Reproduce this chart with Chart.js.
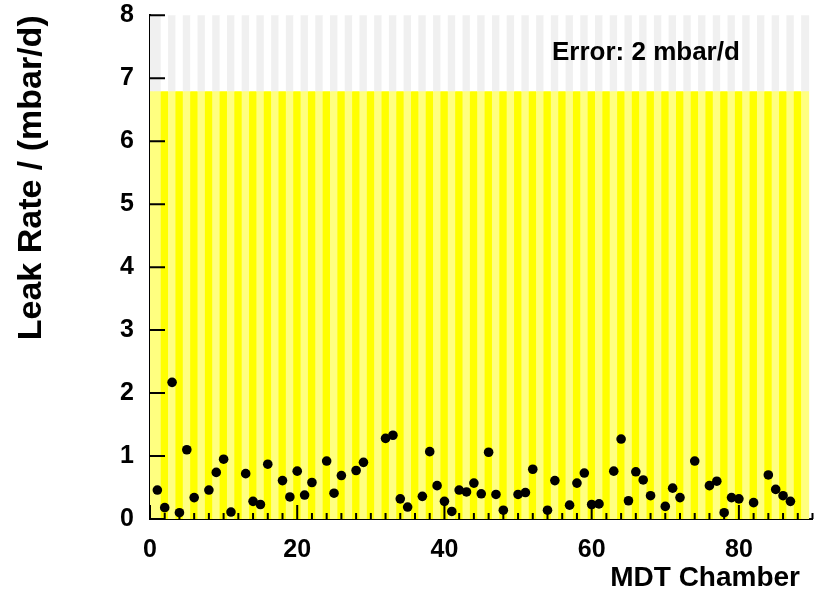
<!DOCTYPE html>
<html>
<head>
<meta charset="utf-8">
<script src="https://cdn.jsdelivr.net/npm/chart.js@4.4.1/dist/chart.umd.min.js"></script>
<style>
  html, body { margin: 0; padding: 0; background: #fff; }
</style>
</head>
<body>
<canvas id="leak_chart" width="814" height="596"></canvas>
<script>
// chamber number / measured leak rate (mbar/d)
const chambers = [1, 2, 3, 4, 5, 6, 8, 9, 10, 11, 13, 14, 15, 16, 18, 19, 20, 21, 22, 24,
  25, 26, 28, 29, 32, 33, 34, 35, 37, 38, 39, 40, 41, 42, 43, 44, 45, 46, 47, 48,
  50, 51, 52, 54, 55, 57, 58, 59, 60, 61, 63, 64, 65, 66, 67, 68, 70, 71, 72, 74,
  76, 77, 78, 79, 80, 82, 84, 85, 86, 87];
const leakRates = [0.46, 0.18, 2.17, 0.10, 1.10, 0.34, 0.46, 0.74, 0.95, 0.11, 0.72, 0.28, 0.23, 0.87, 0.61, 0.35, 0.76, 0.38, 0.58, 0.92,
  0.41, 0.69, 0.77, 0.90, 1.28, 1.33, 0.32, 0.19, 0.36, 1.07, 0.53, 0.28, 0.12, 0.46, 0.43, 0.57, 0.40, 1.06, 0.39, 0.14,
  0.39, 0.42, 0.79, 0.14, 0.61, 0.22, 0.57, 0.73, 0.23, 0.24, 0.76, 1.27, 0.29, 0.75, 0.62, 0.37, 0.20, 0.49, 0.34, 0.92,
  0.53, 0.60, 0.10, 0.34, 0.32, 0.26, 0.70, 0.47, 0.37, 0.28];

// background bins (one per chamber slot)
const bins = [0, 1, 2, 3, 4, 5, 6, 7, 8, 9, 10, 11, 12, 13, 14, 15, 16, 17, 18, 19,
  20, 21, 22, 23, 24, 25, 26, 27, 28, 29, 30, 31, 32, 33, 34, 35, 36, 37, 38, 39,
  40, 41, 42, 43, 44, 45, 46, 47, 48, 49, 50, 51, 52, 53, 54, 55, 56, 57, 58, 59,
  60, 61, 62, 63, 64, 65, 66, 67, 68, 69, 70, 71, 72, 73, 74, 75, 76, 77, 78, 79,
  80, 81, 82, 83, 84, 85, 86, 87, 88, 89];
const bandTop = 6.8;
const yMax = 8;

const xTicks = [0, 20, 40, 60, 80];
const yTicks = [0, 1, 2, 3, 4, 5, 6, 7, 8];

const FONT = '"Liberation Sans", Arial, sans-serif';

const light = (i) => i === 0 || i % 2 === 1;

// inward ticks + free texts
const axisTicks = {
  id: 'axisTicks',
  afterDatasetsDraw(chart) {
    const { ctx, chartArea: a, scales: { x, y } } = chart;
    ctx.save();
    ctx.strokeStyle = '#000';
    ctx.lineWidth = 2;
    ctx.beginPath();
    for (let v = 0; v <= 90; v += 2) {
      const px = x.getPixelForValue(v);
      const len = v % 20 === 0 ? 14 : 6;
      ctx.moveTo(px, a.bottom);
      ctx.lineTo(px, a.bottom - len);
    }
    yTicks.forEach((v) => {
      const py = y.getPixelForValue(v);
      ctx.moveTo(a.left, py);
      ctx.lineTo(a.left + 15, py);
    });
    ctx.stroke();

    ctx.fillStyle = '#000';
    ctx.textBaseline = 'middle';
    ctx.font = 'bold 28px ' + FONT;
    ctx.textAlign = 'right';
    ctx.fillText('MDT Chamber', 800, 578);
    ctx.font = 'bold 26px ' + FONT;
    ctx.textAlign = 'left';
    ctx.fillText('Error: 2 mbar/d', 552, 53);
    ctx.restore();
  }
};

const ctx = document.getElementById('leak_chart');

new Chart(ctx, {
  type: 'scatter',
  data: {
    datasets: [
      {
        type: 'scatter',
        data: chambers.map((c, i) => ({ x: c, y: leakRates[i] })),
        backgroundColor: '#000',
        borderWidth: 0,
        pointRadius: 4.8,
        pointHoverRadius: 4.8,
        order: 0
      },
      {
        type: 'bar',
        data: bins.map((b) => ({ x: b, y: bandTop })),
        backgroundColor: bins.map((b) => (light(b) ? '#ffff80' : '#ffff00')),
        borderWidth: 0,
        barPercentage: 1,
        categoryPercentage: 1,
        grouped: false,
        order: 2
      },
      {
        type: 'bar',
        data: bins.map((b) => ({ x: b, y: [bandTop, yMax] })),
        backgroundColor: bins.map((b) => (light(b) ? '#f0f0f0' : '#ffffff')),
        borderWidth: 0,
        barPercentage: 1,
        categoryPercentage: 1,
        grouped: false,
        order: 1
      }
    ]
  },
  options: {
    responsive: false,
    animation: false,
    layout: { autoPadding: false, padding: { top: 0, right: 1.5, bottom: 0, left: 0 } },
    plugins: { legend: { display: false }, tooltip: { enabled: false } },
    scales: {
      x: {
        type: 'linear',
        min: 0,
        max: 90,
        offset: false,
        afterBuildTicks: (s) => { s.ticks = xTicks.map((v) => ({ value: v })); },
        afterFit: (s) => { s.height = 77; s.paddingRight = 0; },
        grid: { display: false, drawTicks: false, offset: false },
        border: { display: true, color: '#000', width: 2 },
        ticks: { color: '#000', padding: 16, font: { family: FONT, size: 25, weight: 'bold' } }
      },
      y: {
        min: 0,
        max: yMax,
        afterBuildTicks: (s) => { s.ticks = yTicks.map((v) => ({ value: v })); },
        afterFit: (s) => { s.width = 150; s.paddingTop = 15.3; },
        grid: { display: false, drawTicks: false },
        border: { display: true, color: '#000', width: 2 },
        ticks: { color: '#000', padding: 16, font: { family: FONT, size: 25, weight: 'bold' } },
        title: {
          display: true,
          text: 'Leak Rate / (mbar/d)',
          align: 'end',
          color: '#000',
          padding: { top: 11, bottom: 0 },
          font: { family: FONT, size: 34, weight: 'bold' }
        }
      }
    }
  },
  plugins: [axisTicks]
});
</script>
</body>
</html>
